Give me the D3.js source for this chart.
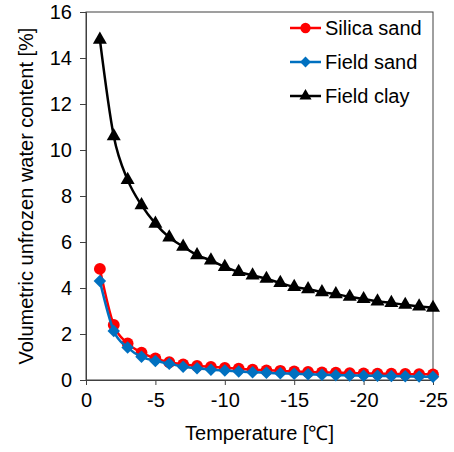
<!DOCTYPE html>
<html>
<head>
<meta charset="utf-8">
<script src="https://cdn.jsdelivr.net/npm/d3@7"></script>
<style>
  body { margin: 0; background: #fff; }
  svg text { font-family: "Liberation Sans", Arial, sans-serif; fill: #000; }
</style>
</head>
<body>
<div id="chart"></div>
<script>
// temperatures (°C) of the measured points
const temps = [-1, -2, -3, -4, -5, -6, -7, -8, -9, -10, -11, -12, -13,
               -14, -15, -16, -17, -18, -19, -20, -21, -22, -23, -24, -25];

const silicaSand = [4.83, 2.39, 1.59, 1.19, 0.94, 0.77, 0.68, 0.61, 0.57, 0.53, 0.49, 0.45, 0.42,
                    0.4, 0.37, 0.35, 0.33, 0.32, 0.3, 0.29, 0.28, 0.27, 0.26, 0.25, 0.24];
const fieldSand = [4.3, 2.13, 1.41, 1.01, 0.83, 0.71, 0.58, 0.51, 0.45, 0.41, 0.37, 0.34, 0.31,
                   0.29, 0.27, 0.25, 0.23, 0.21, 0.2, 0.19, 0.18, 0.17, 0.16, 0.15, 0.14];
const fieldClay = [14.8, 10.6, 8.7, 7.6, 6.8, 6.2, 5.8, 5.43, 5.2, 4.92, 4.7, 4.55, 4.4,
                   4.22, 4.05, 3.95, 3.82, 3.73, 3.62, 3.52, 3.42, 3.35, 3.27, 3.2, 3.14];

const xTicks = [0, -5, -10, -15, -20, -25];
const yTicks = [0, 2, 4, 6, 8, 10, 12, 14, 16];

const seriesNames = ["Silica sand", "Field sand", "Field clay"];
const seriesColors = ["#ff0000", "#0070c0", "#000000"];

const W = 454, H = 452;
const margin = {top: 12, right: 21, bottom: 72, left: 86};
const width = W - margin.left - margin.right;
const height = H - margin.top - margin.bottom;
const fontSize = "20px";

const svg = d3.select("#chart").append("svg")
    .attr("width", W)
    .attr("height", H);

const g = svg.append("g")
    .attr("transform", `translate(${margin.left},${margin.top})`);

// reversed temperature axis: 0 on the left, -25 on the right
const x = d3.scaleLinear().domain([0, -25]).range([0, width]);
const y = d3.scaleLinear().domain([0, 16]).range([height, 0]);

// plot frame
g.append("rect")
    .attr("width", width)
    .attr("height", height)
    .attr("fill", "none")
    .attr("stroke", "#404040")
    .attr("stroke-width", 1);

// axes
const xAxis = g.append("g")
    .attr("transform", `translate(0,${height})`)
    .call(d3.axisBottom(x).tickValues(xTicks).tickSize(5).tickPadding(8).tickFormat(d3.format("d")));

const yAxis = g.append("g")
    .call(d3.axisLeft(y).tickValues(yTicks).tickSize(6).tickPadding(8));

[xAxis, yAxis].forEach(a => {
    a.select(".domain").attr("stroke", "#404040");
    a.selectAll(".tick line").attr("stroke", "#404040");
    a.selectAll(".tick text")
        .style("font-size", fontSize)
        .style("font-family", "Liberation Sans, Arial, sans-serif")
        .attr("fill", "#000");
});
xAxis.selectAll(".tick text").text(d => d === 0 ? "0" : "-" + Math.abs(d));

// axis titles
svg.append("text")
    .attr("x", margin.left + width / 2)
    .attr("y", 440)
    .attr("text-anchor", "middle")
    .style("font-size", fontSize)
    .text("Temperature [℃]");

svg.append("text")
    .attr("transform", `translate(33,${margin.top + height / 2}) rotate(-90)`)
    .attr("text-anchor", "middle")
    .style("font-size", fontSize)
    .text("Volumetric unfrozen water content [%]");

// series
const allSeries = [silicaSand, fieldSand, fieldClay];

const line = d3.line()
    .x((d, i) => x(temps[i]))
    .y(d => y(d))
    .curve(d3.curveMonotoneX);

// excel-like markers: circle, square turned 45deg, triangle
const symbols = [d3.symbolCircle, d3.symbolSquare, d3.symbolTriangle];
const symbolSizes = [110, 78, 85];
const symbolRot = [0, 45, 0];

allSeries.forEach((vals, s) => {
    g.append("path")
        .datum(vals)
        .attr("d", line)
        .attr("fill", "none")
        .attr("stroke", seriesColors[s])
        .attr("stroke-width", 2.5);

    g.selectAll(".pt" + s)
        .data(vals)
        .join("path")
        .attr("class", "pt" + s)
        .attr("transform", (d, i) => `translate(${x(temps[i])},${y(d)}) rotate(${symbolRot[s]})`)
        .attr("d", d3.symbol().type(symbols[s]).size(symbolSizes[s]))
        .attr("fill", seriesColors[s]);
});

// legend
const legend = svg.append("g").attr("transform", "translate(290,28)");
seriesNames.forEach((name, s) => {
    const row = legend.append("g").attr("transform", `translate(0,${s * 34})`);
    row.append("line")
        .attr("x1", 0).attr("x2", 31)
        .attr("stroke", seriesColors[s])
        .attr("stroke-width", 2.5);
    row.append("path")
        .attr("transform", `translate(15.5,0) rotate(${symbolRot[s]})`)
        .attr("d", d3.symbol().type(symbols[s]).size(symbolSizes[s] * 0.75))
        .attr("fill", seriesColors[s]);
    row.append("text")
        .attr("x", 35)
        .attr("dy", "0.35em")
        .style("font-size", fontSize)
        .text(name);
});
</script>
</body>
</html>
